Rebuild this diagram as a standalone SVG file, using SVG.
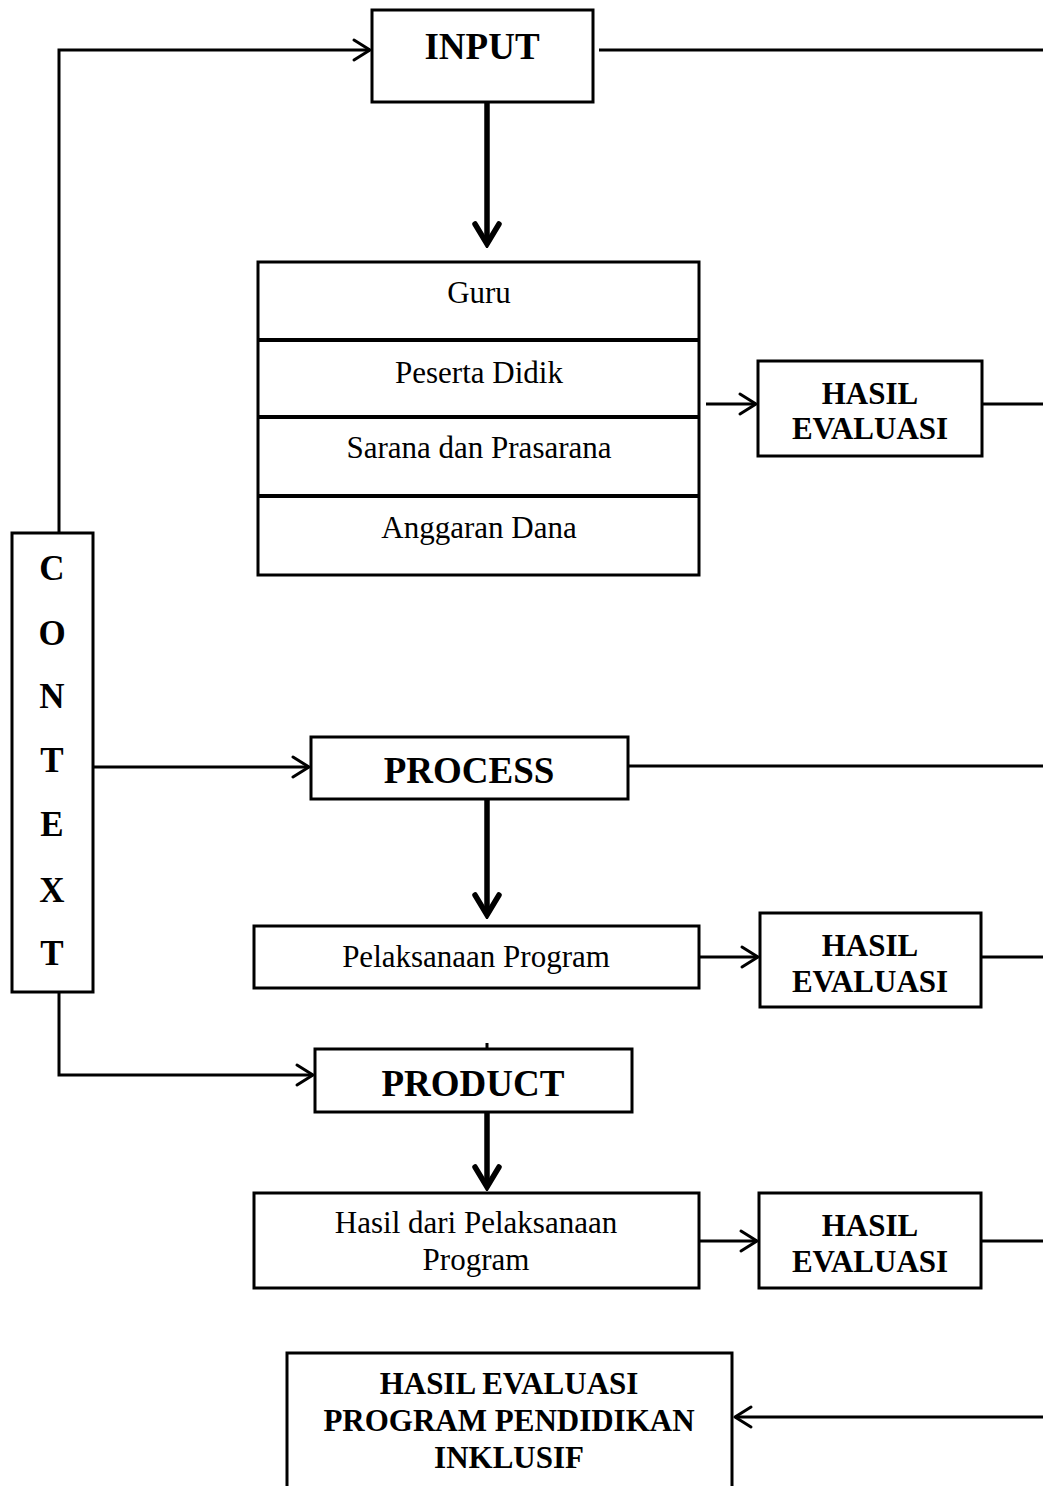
<svg xmlns="http://www.w3.org/2000/svg" width="1043" height="1486" viewBox="0 0 1043 1486">
<style>
.box{fill:#fff;stroke:#000;stroke-width:3}
.div{stroke:#000;stroke-width:4}
.ln{fill:none;stroke:#000;stroke-width:3}
.thick{fill:none;stroke:#000;stroke-width:5.5}
.t{font-family:"Liberation Serif","Times New Roman",serif;fill:#000;text-anchor:middle}
.h{font-weight:bold;font-size:37px}
.b{font-weight:bold;font-size:31px}
.r{font-size:31px}
.c{font-weight:bold;font-size:35px}
</style>
<defs>
<marker id="ah" markerUnits="userSpaceOnUse" viewBox="-20 -13 23 26" markerWidth="23" markerHeight="26" refX="0" refY="0" orient="auto">
<path d="M-16,-10 L0,0 L-16,10" fill="none" stroke="#000" stroke-width="3" stroke-linecap="round" stroke-linejoin="round"/>
</marker>
<marker id="ahT" markerUnits="userSpaceOnUse" viewBox="-26 -16 30 32" markerWidth="30" markerHeight="32" refX="0" refY="0" orient="auto">
<path d="M-20,-12 L0,0 L-20,12" fill="none" stroke="#000" stroke-width="5.5" stroke-linecap="round" stroke-linejoin="miter"/>
</marker>
</defs>
<rect width="1043" height="1486" fill="#fff"/>
<g id="connectors">
<path class="ln" d="M59,532 V50 H370" marker-end="url(#ah)"/>
<path class="ln" d="M599,50 H1043"/>
<path class="thick" d="M487,102 V244" marker-end="url(#ahT)"/>
<path class="ln" d="M706,404 H756" marker-end="url(#ah)"/>
<path class="ln" d="M982,404 H1043"/>
<path class="ln" d="M93,767 H309" marker-end="url(#ah)"/>
<path class="ln" d="M628,766 H1043"/>
<path class="thick" d="M487,799 V915" marker-end="url(#ahT)"/>
<path class="ln" d="M699,957 H758" marker-end="url(#ah)"/>
<path class="ln" d="M981,957 H1043"/>
<path class="ln" d="M59,992 V1075 H313" marker-end="url(#ah)"/>
<path class="ln" d="M487,1043 V1049"/>
<path class="thick" d="M487,1112 V1187" marker-end="url(#ahT)"/>
<path class="ln" d="M699,1241 H757" marker-end="url(#ah)"/>
<path class="ln" d="M981,1241 H1043"/>
<path class="ln" d="M1043,1417 H735" marker-end="url(#ah)"/>
</g>
<g id="input">
<rect class="box" x="372" y="10" width="221" height="92"/>
<text class="t h" x="482" y="59">INPUT</text>
</g>
<g id="input-list">
<rect class="box" x="258" y="262" width="441" height="313"/>
<line class="div" x1="258" y1="340" x2="699" y2="340"/>
<line class="div" x1="258" y1="417" x2="699" y2="417"/>
<line class="div" x1="258" y1="496" x2="699" y2="496"/>
<text class="t r" x="479" y="303">Guru</text>
<text class="t r" x="479" y="383">Peserta Didik</text>
<text class="t r" x="479" y="458">Sarana dan Prasarana</text>
<text class="t r" x="479" y="538">Anggaran Dana</text>
</g>
<g id="hasil-input">
<rect class="box" x="758" y="361" width="224" height="95"/>
<text class="t b" x="870" y="404">HASIL</text>
<text class="t b" x="870" y="439">EVALUASI</text>
</g>
<g id="context">
<rect class="box" x="12" y="533" width="81" height="459"/>
<text class="t c" x="52" y="580">C</text>
<text class="t c" x="52" y="645">O</text>
<text class="t c" x="52" y="708">N</text>
<text class="t c" x="52" y="772">T</text>
<text class="t c" x="52" y="836">E</text>
<text class="t c" x="52" y="902">X</text>
<text class="t c" x="52" y="965">T</text>
</g>
<g id="process">
<rect class="box" x="311" y="737" width="317" height="62"/>
<text class="t h" x="469" y="783">PROCESS</text>
</g>
<g id="pelaksanaan">
<rect class="box" x="254" y="926" width="445" height="62"/>
<text class="t r" x="476" y="967">Pelaksanaan Program</text>
</g>
<g id="hasil-process">
<rect class="box" x="760" y="913" width="221" height="94"/>
<text class="t b" x="870" y="956">HASIL</text>
<text class="t b" x="870" y="992">EVALUASI</text>
</g>
<g id="product">
<rect class="box" x="315" y="1049" width="317" height="63"/>
<text class="t h" x="473" y="1096">PRODUCT</text>
</g>
<g id="hasil-pelaksanaan">
<rect class="box" x="254" y="1193" width="445" height="95"/>
<text class="t r" x="476" y="1233">Hasil dari Pelaksanaan</text>
<text class="t r" x="476" y="1270">Program</text>
</g>
<g id="hasil-product">
<rect class="box" x="759" y="1193" width="222" height="95"/>
<text class="t b" x="870" y="1236">HASIL</text>
<text class="t b" x="870" y="1272">EVALUASI</text>
</g>
<g id="hasil-akhir">
<rect class="box" x="287" y="1353" width="445" height="150"/>
<text class="t b" x="509" y="1394">HASIL EVALUASI</text>
<text class="t b" x="509" y="1431">PROGRAM PENDIDIKAN</text>
<text class="t b" x="509" y="1468">INKLUSIF</text>
</g>
</svg>
